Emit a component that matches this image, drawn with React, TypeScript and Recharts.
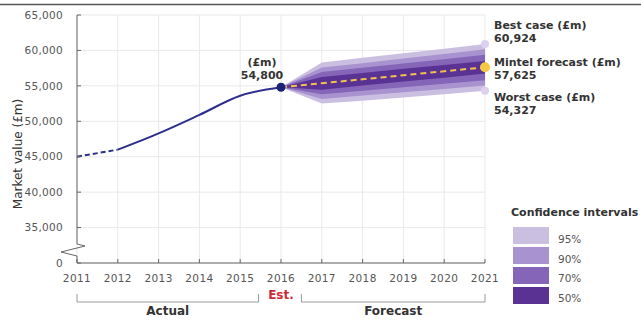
import {
  Area,
  CartesianGrid,
  ComposedChart,
  Line,
  ReferenceDot,
  XAxis,
  YAxis,
} from "recharts";

const years = [2011, 2012, 2013, 2014, 2015, 2016, 2017, 2018, 2019, 2020, 2021];
const actualDashed = [45000, 46000, null, null, null, null, null, null, null, null, null];
const actual = [null, 46000, 48300, 50900, 53600, 54800, null, null, null, null, null];

const forecastYears = [2016, 2017, 2018, 2019, 2020, 2021];
const forecast = [54800, 55370, 55930, 56500, 57060, 57625];
const ci95Low = [54800, 52500, 52900, 53350, 53800, 54327];
const ci95High = [54800, 58300, 58950, 59600, 60250, 60924];
const ci90Low = [54800, 53150, 53650, 54100, 54550, 55050];
const ci90High = [54800, 57600, 58200, 58850, 59500, 60150];
const ci70Low = [54800, 53800, 54300, 54800, 55300, 55800];
const ci70High = [54800, 56950, 57550, 58150, 58750, 59400];
const ci50Low = [54800, 54450, 55050, 55600, 56150, 56750];
const ci50High = [54800, 56250, 56800, 57400, 57950, 58500];

const yTicks = [30000, 35000, 40000, 45000, 50000, 55000, 60000, 65000];
const ciLabels = ["95%", "90%", "70%", "50%"];
const ciColors = ["#cbbfe1", "#a892cf", "#8465b8", "#5a3293"];

const bestCase = 60924;
const worstCase = 54327;
const lastActual = 54800;

const data = years.map((year, i) => {
  const f = forecastYears.indexOf(year);
  return {
    year,
    actualDashed: actualDashed[i],
    actual: actual[i],
    forecast: f >= 0 ? forecast[f] : null,
    ci95: f >= 0 ? [ci95Low[f], ci95High[f]] : null,
    ci90: f >= 0 ? [ci90Low[f], ci90High[f]] : null,
    ci70: f >= 0 ? [ci70Low[f], ci70High[f]] : null,
    ci50: f >= 0 ? [ci50Low[f], ci50High[f]] : null,
  };
});

const FONT = "DejaVu Sans, Verdana, sans-serif";
const W = 641;
const H = 320;
// plot box (matches chart margins + axis sizes below)
const PL = 77;
const PT = 15;
const PW = 408;
const PH = 248;
const xOf = (yr: number) => PL + ((yr - 2011) / 10) * PW;

const fmt = (v: number) => (v === 30000 ? "0" : v.toLocaleString("en-US"));

function TwoLine({ viewBox, title, value, dx, dy, anchor }: any) {
  const cx = viewBox.x + (viewBox.width || 0) / 2;
  const cy = viewBox.y + (viewBox.height || 0) / 2;
  return (
    <g fontFamily={FONT} fontSize={11} fontWeight="bold" fill="#333">
      <text x={cx + dx} y={cy + dy} textAnchor={anchor}>
        {title}
      </text>
      <text x={cx + dx} y={cy + dy + 13} textAnchor={anchor}>
        {value}
      </text>
    </g>
  );
}

export default function App() {
  const axisX = PL;
  const baseY = PT + PH;
  return (
    <div
      style={{
        position: "absolute",
        left: 0,
        top: 0,
        width: W,
        height: H,
        background: "#fff",
        fontFamily: FONT,
        overflow: "hidden",
      }}
    >
      <ComposedChart
        width={W}
        height={H}
        data={data}
        margin={{ top: PT, right: W - PL - PW, bottom: 0, left: 17 }}
      >
        <CartesianGrid stroke="#e9e9ec" />
        <XAxis
          dataKey="year"
          type="number"
          domain={[2011, 2021]}
          ticks={years}
          height={H - baseY}
          tickSize={-4}
          tickMargin={16}
          stroke="#666"
          tick={{ fill: "#555", fontSize: 10.5, fontFamily: FONT, letterSpacing: 0.4 }}
        />
        <YAxis
          type="number"
          domain={[30000, 65000]}
          ticks={yTicks}
          width={60}
          axisLine={false}
          tickSize={-4}
          tickMargin={18}
          stroke="#666"
          tickFormatter={fmt}
          tick={{ fill: "#555", fontSize: 10.5, fontFamily: FONT, letterSpacing: 0.3 }}
        />
        <Area
          dataKey="ci95"
          type="linear"
          fill={ciColors[0]}
          fillOpacity={1}
          stroke="none"
          isAnimationActive={false}
        />
        <Area
          dataKey="ci90"
          type="linear"
          fill={ciColors[1]}
          fillOpacity={1}
          stroke="none"
          isAnimationActive={false}
        />
        <Area
          dataKey="ci70"
          type="linear"
          fill={ciColors[2]}
          fillOpacity={1}
          stroke="none"
          isAnimationActive={false}
        />
        <Area
          dataKey="ci50"
          type="linear"
          fill={ciColors[3]}
          fillOpacity={1}
          stroke="none"
          isAnimationActive={false}
        />
        <Line
          dataKey="actualDashed"
          type="linear"
          stroke="#2c2d8c"
          strokeWidth={2}
          strokeDasharray="5 3"
          dot={false}
          isAnimationActive={false}
        />
        <Line
          dataKey="actual"
          type="monotone"
          stroke="#2c2d8c"
          strokeWidth={2}
          dot={false}
          isAnimationActive={false}
        />
        <Line
          dataKey="forecast"
          type="linear"
          stroke="#f2c14e"
          strokeWidth={2}
          strokeDasharray="6 4"
          dot={false}
          isAnimationActive={false}
        />
        <ReferenceDot
          x={2016}
          y={lastActual}
          r={4.5}
          fill="#1b2379"
          stroke="none"
          label={<TwoLine title="(£m)" value="54,800" dx={-19} dy={-21} anchor="middle" />}
        />
        <ReferenceDot
          x={2021}
          y={bestCase}
          r={4}
          fill="#dcd2f0"
          stroke="none"
          ifOverflow="visible"
          label={<TwoLine title="Best case (£m)" value="60,924" dx={9} dy={-15} anchor="start" />}
        />
        <ReferenceDot
          x={2021}
          y={forecast[forecast.length - 1]}
          r={5}
          fill="#f7c843"
          stroke="none"
          ifOverflow="visible"
          label={
            <TwoLine title="Mintel forecast (£m)" value="57,625" dx={9} dy={-1} anchor="start" />
          }
        />
        <ReferenceDot
          x={2021}
          y={worstCase}
          r={4}
          fill="#dcd2f0"
          stroke="none"
          ifOverflow="visible"
          label={<TwoLine title="Worst case (£m)" value="54,327" dx={9} dy={10} anchor="start" />}
        />
      </ComposedChart>

      <svg
        width={W}
        height={H}
        style={{ position: "absolute", left: 0, top: 0, pointerEvents: "none" }}
        fontFamily={FONT}
      >
        <line x1={0} y1={4.5} x2={W} y2={4.5} stroke="#555" strokeWidth={1.5} />
        {/* y axis with break */}
        <path
          d={`M${axisX},${PT} L${axisX},${baseY - 19} L${axisX + 8},${baseY - 17} L${axisX - 16},${baseY - 11} L${axisX},${baseY - 7} L${axisX},${baseY}`}
          fill="none"
          stroke="#666"
          strokeWidth={1}
        />
        <text
          transform={`translate(22,${PT + PH / 2 + 15}) rotate(-90)`}
          textAnchor="middle"
          fontSize={12}
          fill="#333"
        >
          Market value (£m)
        </text>
        {/* period brackets */}
        <path
          d={`M${xOf(2011)},294 L${xOf(2011)},302 L${xOf(2015.45)},302 L${xOf(2015.45)},294`}
          fill="none"
          stroke="#999"
        />
        <path
          d={`M${xOf(2016.5)},294 L${xOf(2016.5)},302 L${xOf(2021)},302 L${xOf(2021)},294`}
          fill="none"
          stroke="#999"
        />
        <text x={xOf(2016)} y={299} textAnchor="middle" fontSize={12} fontWeight="bold" fill="#cc2a36">
          Est.
        </text>
        <text x={(xOf(2011) + xOf(2015.45)) / 2} y={315} textAnchor="middle" fontSize={12} fontWeight="bold" fill="#333">
          Actual
        </text>
        <text x={(xOf(2016.5) + xOf(2021)) / 2} y={315} textAnchor="middle" fontSize={12} fontWeight="bold" fill="#333">
          Forecast
        </text>
        {/* legend */}
        <text x={511} y={216} fontSize={11} fontWeight="bold" fill="#333">
          Confidence intervals
        </text>
        {ciLabels.map((lab, i) => (
          <g key={lab}>
            <rect x={513} y={227 + i * 20} width={36} height={17} fill={ciColors[i]} />
            <text x={558} y={243 + i * 19.5} fontSize={10.5} fill="#555">
              {lab}
            </text>
          </g>
        ))}
      </svg>
    </div>
  );
}
